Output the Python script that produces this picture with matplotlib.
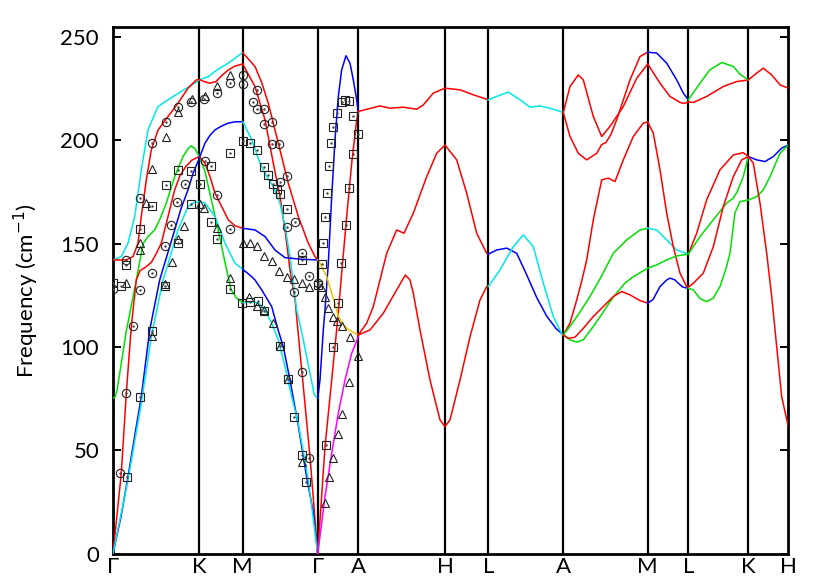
import matplotlib
matplotlib.use("Agg")
import matplotlib.pyplot as plt

# ---------------- high-symmetry path ----------------
kpt_labels = ["Γ", "K", "M", "Γ", "A", "H", "L", "A", "M", "L", "K", "H"]
kpt_pos = [0, 86.3, 129.7, 204.7, 245.3, 332.0, 375.3, 450.3, 534.7, 575.3, 635.3, 675.3]
yticks = [0, 50, 100, 150, 200, 250]

# ---------------- dispersion curves (path coord, cm-1) ----------------
# Gamma-K-M
cyan_top_x = [0, 8.3, 15, 21.7, 28.3, 35, 45, 55, 68.3, 81.7, 86.3, 95.3, 102, 108.7, 115.3, 122, 129.7]
cyan_top_y = [142.2, 143.8, 150.3, 163.2, 185.8, 205.1, 216.4, 219.7, 223.7, 227.7, 229.3, 230.9, 233.4, 235.5, 237.4, 239.8, 242.5]
red_up_x = [0, 6, 13.3, 20, 25, 28.3, 33.3, 38.3, 45, 55, 65, 75, 83.3, 86.3, 91, 97, 103, 109, 115, 122, 129.7]
red_up_y = [142.2, 142.2, 142.2, 143.8, 150.3, 163.2, 180.9, 195.4, 205, 211.6, 218, 225.3, 229.3, 229.5, 228.5, 227.7, 228.5, 231.5, 234, 236, 237]
green_gkm_x = [0, 2, 4, 8.3, 13, 18.3, 23.3, 27, 30, 35, 41.7, 47, 53.3, 61.7, 70, 75, 78.3, 82, 86.3, 92, 98, 105, 112, 118, 123, 129.7]
green_gkm_y = [75.3, 75.8, 79, 92.2, 107, 120, 132.5, 142, 150, 153.5, 156.7, 162, 169.7, 182.5, 192.2, 196, 197.4, 196, 192.2, 185, 172, 157, 141, 128, 124, 121.5]
red_low_x = [0, 8.3, 13.3, 18.3, 23.3, 27, 32, 38.3, 43, 48.3, 55, 61.7, 67, 73, 79, 86.3, 92, 97, 102, 108.7, 115.3, 122, 129.7]
red_low_y = [0, 39, 77.7, 110, 132.5, 137, 138.5, 141, 145, 150.3, 163.2, 176.1, 183, 187.5, 190.5, 192.2, 189, 182.5, 174.5, 168, 161.6, 158.7, 157.5]
blue_gkm_x = [0, 8, 15, 21.7, 28.3, 36.7, 46.7, 51.7, 61.7, 68, 75, 80, 86.3, 92, 97, 102, 108.7, 115.3, 122, 129.7]
blue_gkm_y = [0, 18, 37.3, 57, 76, 108.3, 132.5, 140.6, 156.7, 167, 176.1, 184, 191.4, 198.7, 202.5, 205.1, 207, 208.4, 209, 209.1]
cyan_low_x = [0, 15, 28.3, 38.3, 50, 53.3, 65, 75, 81, 86.3, 92, 102, 112, 122, 129.7]
cyan_low_y = [0, 35.7, 72.8, 105, 132.5, 137.4, 156.7, 168, 170, 170.4, 169.7, 163.2, 150.3, 140.6, 137.7]

# M-Gamma
mg_redA_x = [129.7, 142, 148.7, 155.3, 165.3, 175.3, 185.3, 195.3, 202, 204.7]
mg_redA_y = [242.5, 235.8, 228, 218, 198.7, 179.3, 163.2, 150.3, 143.8, 142.2]
mg_redB_x = [129.7, 142, 152, 160.3, 167, 172, 177, 182, 188.7, 197, 204.7]
mg_redB_y = [237, 226.1, 210, 189, 172.8, 156.7, 137.4, 123, 89, 47, 0]
mg_cyanC_x = [129.7, 138.7, 147, 153.7, 160.3, 167, 172, 177, 180.3, 183.7, 190.3, 197, 201.3, 204.7]
mg_cyanC_y = [209.1, 200.3, 189, 182.5, 177.7, 169.7, 158.3, 143.8, 130.9, 118, 103.5, 87.4, 76.9, 75.3]
mg_blueD_x = [129.7, 142, 152, 162, 172, 188.7, 204.7]
mg_blueD_y = [157.5, 156.7, 153.5, 147, 143.3, 142.5, 142.2]
mg_blueE_x = [129.7, 138.7, 142, 148.7, 158.7, 165.3, 170.3, 177, 185.3, 193.7, 200.3, 204.7]
mg_blueE_y = [137.7, 134.1, 132.5, 127.7, 119.6, 108, 100.2, 84.1, 62, 37, 20, 0]
mg_cyanF_x = [129.7, 137, 145.3, 152, 158.7, 165.3, 172, 178.7, 185.3, 195.3, 204.7]
mg_cyanF_y = [121.5, 121.8, 121.5, 118, 111.6, 103.5, 90.6, 76, 63.1, 35.7, 0]

# Gamma-A
ga_blue_x = [204.7, 207, 210.3, 212, 215.3, 218.7, 222, 225.3, 228.7, 233, 237, 240.3, 243.7, 245.3]
ga_blue_y = [75.3, 84.1, 108.3, 118, 140.6, 172.8, 200.3, 221.3, 234.2, 241, 237.4, 229.3, 219.7, 214]
ga_red_x = [204.7, 212, 218.7, 225.3, 228.7, 233.7, 238.7, 243.7, 245.3]
ga_red_y = [0, 51.8, 84.1, 116.4, 136, 163.2, 189, 210, 214]
ga_yellow_x = [204.7, 207, 213.7, 218.7, 222, 225.3, 232, 237, 242, 245.3]
ga_yellow_y = [142.2, 140.6, 134.1, 126.1, 121.2, 114.8, 109.9, 108, 106.7, 105.9]
ga_mag_x = [204.7, 212, 218.7, 225.3, 232, 238.7, 245.3]
ga_mag_y = [0, 27.6, 48.6, 68, 84.1, 97, 105.1]

# A-H-L
ahl_top_x = [245.3, 253.7, 267, 277, 290.3, 303.7, 310.3, 320.3, 332, 347, 360.3, 375.3]
ahl_top_y = [214, 215.1, 216.7, 215.6, 216.1, 215.1, 217.2, 222.9, 225.3, 224.5, 222.1, 219.7]
ahl_mid_x = [245.3, 253.7, 260.3, 267, 273.7, 283.7, 291, 300.3, 313.7, 323.7, 332, 343.7, 353.7, 363.7, 373.7, 375.3]
ahl_mid_y = [105.9, 111.6, 119.6, 132.5, 145.4, 156.7, 155.1, 164.8, 182.5, 193.8, 197.8, 190.6, 174.5, 155.1, 145.4, 145]
ahl_low_x = [245.3, 257, 270.3, 283.7, 292.3, 297, 300.3, 307, 317, 327, 332, 337, 347, 357, 367, 373.7, 375.3]
ahl_low_y = [105.9, 108.3, 116.4, 127.7, 134.9, 132.5, 126.1, 108.3, 84.1, 64.8, 61.5, 64.8, 84.1, 105, 122.8, 129.3, 129.5]

# L-A
la_top_x = [375.3, 383.7, 395.3, 407, 417, 427, 437, 450.3]
la_top_y = [219.7, 221.3, 223.4, 219.7, 216.1, 216.7, 215.6, 213.5]
la_blue_x = [375.3, 383.7, 393.7, 403.7, 413.7, 423.7, 433.7, 443, 450.3]
la_blue_y = [145, 147, 147.9, 145.4, 135, 124, 115, 109, 105.9]
la_cyan_x = [375.3, 387, 400.3, 410.3, 420.3, 430.3, 440.3, 448.7, 450.3]
la_cyan_y = [129.3, 137.4, 148.6, 154.3, 148.6, 131, 114.8, 106.5, 105.9]

# A-M
am_redA_x = [450.3, 457, 465.3, 470.3, 480.3, 488.7, 497, 510.3, 523.7, 534.7]
am_redA_y = [213.5, 226.1, 231.7, 229.3, 211.6, 201.9, 206.8, 216.4, 230.1, 237]
am_redB_x = [450.3, 457, 465.3, 473.7, 483.7, 488.7, 493, 498, 503.7, 517, 527, 534.7]
am_redB_y = [213.5, 201.9, 193.8, 190.6, 193.8, 198, 199, 203, 210, 229.3, 240.6, 242.7]
am_redC_x = [450.3, 457, 463.7, 469, 473.7, 480.3, 488.7, 495.3, 502, 510.3, 520.3, 530.3, 534.7]
am_redC_y = [105.9, 111.6, 122.8, 132.5, 142.2, 161.6, 180.9, 181.8, 180.1, 190.6, 201.9, 208.4, 208.9]
am_greenD_x = [450.3, 457, 467, 477, 487, 500.3, 513.7, 527, 534.7]
am_greenD_y = [105.9, 110, 117, 124.5, 133, 145.4, 151.9, 156.7, 157.5]
am_greenE_x = [450.3, 457, 463.7, 470.3, 480.3, 490.3, 497, 505, 512, 520, 527, 534.7]
am_greenE_y = [105.9, 103.5, 102.4, 103.5, 110, 117, 122, 127, 131, 134, 136, 138.2]
am_redF_x = [450.3, 455.3, 462, 470.3, 480.3, 490.3, 500.3, 508.7, 517, 527, 534.7]
am_redF_y = [105.9, 104.3, 104.8, 109.1, 114.8, 119.6, 124.5, 126.9, 125.3, 122.5, 121.3]

# M-L
ml_blue_top_x = [534.7, 543.7, 553.7, 563.7, 570.3, 575.3]
ml_blue_top_y = [242.7, 242.3, 237.4, 229.3, 222.9, 219.7]
mlk_red_top_x = [534.7, 547, 557, 567, 571, 575.3, 580.3, 593.7, 610.3, 623.7, 635.3]
mlk_red_top_y = [237, 227.7, 221.3, 218.4, 217.9, 218.6, 218.4, 221.3, 226.1, 228.5, 229.3]
ml_cyan_x = [534.7, 543.7, 553.7, 563.7, 575.3]
ml_cyan_y = [157.5, 156.7, 151.9, 147, 145]
ml_red_x = [534.7, 540.3, 547, 553.7, 560.3, 567, 573.7, 575.3]
ml_red_y = [208.9, 203.5, 185.8, 164.8, 148.6, 135.8, 129.3, 129]
ml_green_x = [534.7, 543.7, 553.7, 563.7, 575.3]
ml_green_y = [138.2, 139.8, 142.2, 144.1, 145]
ml_blue_low_x = [534.7, 540, 547, 553.7, 557, 562, 565.3, 570, 575.3]
ml_blue_low_y = [121.3, 123, 129.3, 132.5, 133.4, 132.5, 130.9, 129, 128.5]

# L-K
lk_green_top_x = [575.3, 587, 597, 608.7, 620.3, 627, 635.3]
lk_green_top_y = [219.7, 227.7, 234.2, 237.7, 235.8, 232, 229.3]
lk_red1_x = [575.3, 583.7, 593.7, 607, 620.3, 630.3, 635.3]
lk_red1_y = [145, 155.1, 171.3, 185.8, 193, 194.1, 192.2]
lk_green1_x = [575.3, 587, 600.3, 613.7, 620, 624, 630.3, 635.3]
lk_green1_y = [145, 153.5, 161.6, 169.7, 172, 175, 182.5, 192.2]
lk_red2_x = [575.3, 580.3, 590.3, 600.3, 610.3, 620.3, 628.7, 635.3]
lk_red2_y = [129, 130.9, 135.8, 148.6, 168, 182.5, 190.6, 192.2]
lk_green2_x = [575.3, 580.3, 587, 593.7, 600.3, 607, 613, 617, 622, 627, 635.3]
lk_green2_y = [128.5, 127.7, 123.5, 122, 123.7, 129.3, 138, 145.4, 165, 170.4, 171.2]

# K-H
kh_red_top_x = [635.3, 643.7, 650.3, 658.7, 667, 675.3]
kh_red_top_y = [229.3, 232.6, 235, 231.7, 226.9, 225.3]
kh_blue_x = [635.3, 643.7, 652, 660.3, 668.7, 675.3]
kh_blue_y = [192.2, 190.6, 189.8, 192.2, 196.3, 197.8]
kh_green_x = [635.3, 643.7, 650.3, 657, 667, 675.3]
kh_green_y = [171.2, 172.8, 176.1, 182.5, 193.8, 197.8]
kh_red_down_x = [635.3, 640.3, 647, 653.7, 658.7, 663.7, 668.7, 675.3]
kh_red_down_y = [192.2, 189, 169.7, 145.4, 124.5, 100.2, 76, 61.5]

# ---------------- experimental points ----------------
circ_x = [0, 13.3, 26.7, 20, 13.3, 6.7, 26.7, 39.3, 52.7, 65, 78.3, 72.3, 64.3, 58.3, 52.3, 39.3,
          91.3, 103.7, 117, 129.7, 129.7, 92, 103.7, 117,
          143.7, 140.3, 144.3, 151.3, 151.3, 158.7, 158.7, 166.3, 174.3, 167, 182, 173.7, 188.7, 196.3, 181.3,
          188.7, 196.3, 204.7]
circ_y = [128, 142.2, 127.7, 110, 77.7, 39, 172.1, 198.7, 209.1, 216.1, 218.4, 179, 170.4, 159.1, 149, 136.1,
          220, 223.2, 228, 231.9, 227.5, 190, 173.7, 157,
          224.2, 218.8, 215.1, 215.1, 208, 208.7, 198.4, 198.4, 183, 179.7, 160.7, 158.3, 145.4, 134.5, 126.9,
          88.1, 46.2, 130.9]
tri_x = [13.3, 27, 27, 33, 39.3, 52.7, 65.3, 78.7, 71.3, 64.7, 58.7, 52, 39.3,
         92, 103.7, 117, 87, 91.3, 103.7, 117, 129.7, 137, 143.7,
         151.3, 159.3, 166.3, 173.7, 181.3, 188.7, 196.3, 136.3, 143.7, 151.3, 159.7, 167, 174.7, 189.3,
         208, 212, 215.3, 219.7, 223.7, 228.7, 237, 245.3, 236, 228.7, 224.7, 220.3, 216.3, 212]
tri_y = [130.8, 150.5, 147, 169.8, 186.1, 201.5, 214, 220, 158.7, 152.5, 141, 130.6, 105.4,
         221.4, 226.3, 231.7, 169.3, 167.2, 157.8, 133.3, 150.6, 150.3, 149,
         144.1, 141.9, 137, 134.1, 132.9, 131.2, 129.3, 124.4, 119.8, 117.8, 111.6, 100.7, 84.6, 44.4,
         129.3, 124.3, 118.8, 114.8, 112.8, 110.3, 104.7, 95.7, 83.3, 67.5, 57.8, 46.5, 37.3, 24.7]
sq_x = [0, 7.7, 13.3, 26.7, 39.3, 52.5, 65.2, 77.7, 86.7, 77.7, 65.2, 52.2, 14, 26.5, 38.8,
        97.8, 117, 129.7, 137, 143.7, 97.8, 103.7, 117, 128.7, 137, 144.7, 151.3,
        151.3, 155.3, 159.5, 163.7, 166.7, 174.2, 188.7, 205, 167, 174.7, 181.3, 188.7, 193,
        209.3, 210.3, 212, 214.2, 216.2, 218, 220.3, 224.3, 228.7, 232.3, 236, 240.3, 244.7,
        240.3, 236.3, 232.8, 228.3, 225.3, 220.3, 213]
sq_y = [131, 129.8, 139.5, 157.1, 168.5, 178.3, 185.8, 185, 178.7, 169.2, 150.3, 129.7, 37.3, 75.7, 108,
        187.4, 194.1, 199.8, 198.7, 195.4, 160.6, 152.2, 128.2, 121.2, 121.7, 122.5, 117.7,
        187.1, 183.5, 179.1, 176.6, 174.1, 167, 142.2, 130.1, 100.7, 84.6, 66.4, 47.7, 34.9,
        140.2, 150.6, 162.8, 174.8, 187.4, 198.7, 206.7, 213.2, 218.4, 219.6, 219, 212, 203.1,
        193.4, 177.2, 159.1, 140.6, 121.2, 100, 52.7]

RED, BLUE, CYAN, GREEN, YEL, MAG = "#ff0000", "#0000ff", "#00e8e8", "#00e000", "#f2c200", "#ff00ff"

curves = [
    (cyan_top_x, cyan_top_y, CYAN), (red_up_x, red_up_y, RED), (green_gkm_x, green_gkm_y, GREEN),
    (red_low_x, red_low_y, RED), (blue_gkm_x, blue_gkm_y, BLUE), (cyan_low_x, cyan_low_y, CYAN),
    (mg_redA_x, mg_redA_y, RED), (mg_redB_x, mg_redB_y, RED), (mg_cyanC_x, mg_cyanC_y, CYAN),
    (mg_blueD_x, mg_blueD_y, BLUE), (mg_blueE_x, mg_blueE_y, BLUE), (mg_cyanF_x, mg_cyanF_y, CYAN),
    (ga_blue_x, ga_blue_y, BLUE), (ga_red_x, ga_red_y, RED), (ga_yellow_x, ga_yellow_y, YEL),
    (ga_mag_x, ga_mag_y, MAG),
    (ahl_top_x, ahl_top_y, RED), (ahl_mid_x, ahl_mid_y, RED), (ahl_low_x, ahl_low_y, RED),
    (la_top_x, la_top_y, CYAN), (la_blue_x, la_blue_y, BLUE), (la_cyan_x, la_cyan_y, CYAN),
    (am_redA_x, am_redA_y, RED), (am_redB_x, am_redB_y, RED), (am_redC_x, am_redC_y, RED),
    (am_greenD_x, am_greenD_y, GREEN), (am_greenE_x, am_greenE_y, GREEN), (am_redF_x, am_redF_y, RED),
    (ml_blue_top_x, ml_blue_top_y, BLUE), (mlk_red_top_x, mlk_red_top_y, RED), (ml_cyan_x, ml_cyan_y, CYAN),
    (ml_red_x, ml_red_y, RED), (ml_green_x, ml_green_y, GREEN), (ml_blue_low_x, ml_blue_low_y, BLUE),
    (lk_green_top_x, lk_green_top_y, GREEN), (lk_red1_x, lk_red1_y, RED), (lk_green1_x, lk_green1_y, GREEN),
    (lk_red2_x, lk_red2_y, RED), (lk_green2_x, lk_green2_y, GREEN),
    (kh_red_top_x, kh_red_top_y, RED), (kh_blue_x, kh_blue_y, BLUE), (kh_green_x, kh_green_y, GREEN),
    (kh_red_down_x, kh_red_down_y, RED),
]

plt.rcParams["font.family"] = ["Lato", "DejaVu Sans"]
plt.rcParams["font.weight"] = "normal"
fig = plt.figure(figsize=(8.3, 5.81), dpi=100)
ax = fig.add_axes([113 / 830, 27.2 / 581, 675.3 / 830, 526.6 / 581])

for xs, ys, c in curves:
    ax.plot(xs, ys, color=c, lw=1.1, solid_joinstyle="round", zorder=3)

for p in kpt_pos[1:-1]:
    ax.axvline(p, color="black", lw=1.6, zorder=2)

mk = dict(ls="none", mfc="none", mec="#222222", mew=0.8, ms=6, zorder=4)
ax.plot(circ_x, circ_y, marker="o", **mk)
ax.plot(tri_x, tri_y, marker="^", **mk)
ax.plot(sq_x, sq_y, marker="s", **mk)
for xs, ys in [(circ_x, circ_y), (sq_x, sq_y)]:
    ax.plot(xs, ys, ls="none", marker=".", ms=1.5, color="#444444", zorder=4)

ax.set_xlim(kpt_pos[0], kpt_pos[-1])
ax.set_ylim(0, 254.8)
ax.set_xticks(kpt_pos)
ax.set_xticklabels(kpt_labels, fontsize=16, fontweight="normal", color="black")
ax.set_yticks(yticks)
ax.tick_params(axis="x", length=0, pad=2, labelcolor="black")
ax.tick_params(axis="y", direction="in", length=6, width=1.4, labelsize=16, pad=10,
               right=True, left=True, labelcolor="black")
for s in ax.spines.values():
    s.set_linewidth(2)
ax.set_ylabel("Frequency (cm$^{-1}$)", fontsize=16, labelpad=14, fontweight="normal")

fig.savefig("out.png", dpi=100)
